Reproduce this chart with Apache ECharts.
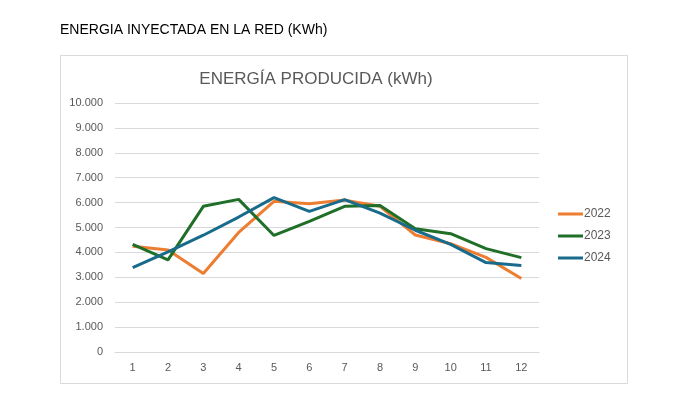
<!DOCTYPE html>
<html>
<head>
<meta charset="utf-8">
<script src="https://cdn.jsdelivr.net/npm/echarts@6/dist/echarts.min.js"></script>
<style>
html,body{margin:0;padding:0;background:#fff;}
#chart{width:681px;height:399px;}
</style>
</head>
<body>
<div id="chart"></div>
<script>
const months = ['1','2','3','4','5','6','7','8','9','10','11','12'];
const s2022 = [4250, 4100, 3150, 4800, 6050, 5950, 6100, 5850, 4700, 4350, 3800, 2950];
const s2023 = [4320, 3700, 5850, 6130, 4680, 5250, 5850, 5880, 4950, 4750, 4150, 3790];
const s2024 = [3390, 4020, 4690, 5420, 6200, 5650, 6120, 5580, 4890, 4320, 3590, 3470];
const seriesNames = ['2022', '2023', '2024'];
const colors = ['#ED7D31', '#1F6F29', '#196B8C'];
const pageTitle = 'ENERGIA INYECTADA EN LA RED (KWh)';
const chartTitle = 'ENERGÍA PRODUCIDA (kWh)';

const chart = echarts.init(document.getElementById('chart'), null, {renderer: 'canvas'});
const fmt = v => v === 0 ? '0' : (v >= 1000 ? Math.floor(v/1000) + '.' + String(v % 1000).padStart(3, '0') : String(v));
const data = [s2022, s2023, s2024];
chart.setOption({
  animation: false,
  textStyle: {fontFamily: 'Liberation Sans, Arial, sans-serif'},
  graphic: [
    {type: 'rect', shape: {x: 60.5, y: 55.5, width: 567, height: 328}, style: {fill: 'none', stroke: '#d9d9d9', lineWidth: 1}, silent: true},
    {type: 'text', left: 60, top: 23, style: {text: pageTitle, fill: '#000', font: '14px "Liberation Sans", Arial, sans-serif'}}
  ],
  title: {
    text: chartTitle, left: 311, top: 66, textAlign: 'center',
    textStyle: {color: '#595959', fontSize: 17, fontWeight: 'normal', fontFamily: 'Liberation Sans, Arial, sans-serif'}
  },
  legend: {
    orient: 'vertical', left: 553, top: 203, itemWidth: 25, itemHeight: 3, itemGap: 10,
    icon: 'rect', data: seriesNames,
    textStyle: {color: '#595959', fontSize: 12, padding: [0,0,0,-4]}
  },
  grid: {left: 115, right: 142, top: 103, bottom: 47, containLabel: false},
  xAxis: {
    type: 'category', data: months, boundaryGap: true,
    axisLine: {show: true, lineStyle: {color: '#d9d9d9'}},
    axisTick: {show: false},
    axisLabel: {color: '#595959', fontSize: 11, margin: 10}
  },
  yAxis: {
    type: 'value', min: 0, max: 10000, interval: 1000,
    axisLine: {show: false}, axisTick: {show: false},
    splitLine: {lineStyle: {color: '#d9d9d9', width: 1}},
    axisLabel: {color: '#595959', fontSize: 11, margin: 12, formatter: fmt}
  },
  series: seriesNames.map((n, i) => ({
    name: n, type: 'line', data: data[i], symbol: 'none', smooth: false,
    lineStyle: {color: colors[i], width: 3}, itemStyle: {color: colors[i]}
  }))
});
</script>
</body>
</html>
